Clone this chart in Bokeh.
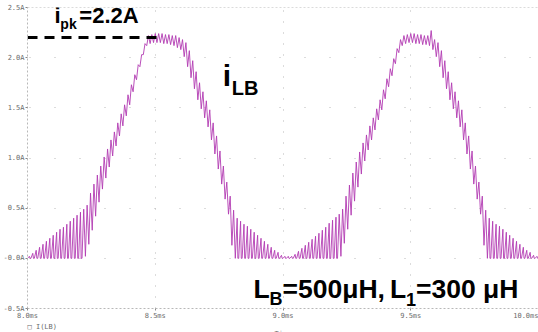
from bokeh.plotting import figure
from bokeh.models import Label, Span, FixedTicker, Range1d, Title
from bokeh.embed import file_html
from bokeh.resources import INLINE

# Inductor current I(LB) of the boost stage, 8 ms .. 10 ms, one entry per switching cycle
T_START, T_END = 8.0, 10.0          # ms
IPK = 2.2                           # A, marked peak current

X_TICKS = [8.0, 8.5, 9.0, 9.5, 10.0]
X_TICK_LABELS = ["8.0ms", "8.5ms", "9.0ms", "9.5ms", "10.0ms"]
Y_TICKS = [-0.5, 0.0, 0.5, 1.0, 1.5, 2.0, 2.5]
Y_TICK_LABELS = ["-0.5A", "-0.0A", "0.5A", "1.0A", "1.5A", "2.0A", "2.5A"]

# peak current reached in each switching cycle (A)
PEAK = [
    0.02, 0.05, 0.08, 0.11, 0.14, 0.17, 0.20, 0.23, 0.26, 0.29, 0.31, 0.34, 0.37, 0.40, 0.43, 0.46, 0.49,
    0.53, 0.65, 0.74, 0.83, 0.92, 1.01, 1.09, 1.18, 1.26, 1.35, 1.44, 1.53, 1.63, 1.73, 1.83, 1.93, 2.03, 2.14,
    2.22, 2.23, 2.24, 2.24, 2.24, 2.23, 2.23, 2.22, 2.22, 2.20, 2.18,
    2.15, 2.07, 1.97, 1.86, 1.75, 1.66, 1.57, 1.48, 1.35, 1.22, 1.07, 0.92, 0.76, 0.62, 0.48,
    0.40, 0.37, 0.34, 0.32, 0.29, 0.26, 0.23, 0.20, 0.17, 0.14, 0.11, 0.08, 0.06, 0.03, 0.02, 0.02, 0.02,
    0.04, 0.07, 0.10, 0.13, 0.16, 0.19, 0.22, 0.25, 0.28, 0.31, 0.35, 0.38, 0.41, 0.44,
    0.49, 0.62, 0.73, 0.85, 0.96, 1.06, 1.15, 1.23, 1.32, 1.40, 1.49, 1.58, 1.68, 1.79, 1.89, 1.99, 2.09, 2.18,
    2.22, 2.23, 2.24, 2.24, 2.23, 2.23, 2.22, 2.22, 2.27, 2.18,
    2.15, 2.07, 1.97, 1.86, 1.75, 1.66, 1.57, 1.48, 1.35, 1.22, 1.07, 0.92, 0.76, 0.62, 0.48,
    0.40, 0.37, 0.34, 0.32, 0.29, 0.26, 0.23, 0.20, 0.17, 0.14, 0.11, 0.08, 0.06, 0.03, 0.02,
]

# current at the start of each switching cycle (A); 0 where the inductor runs dry
VALLEY = [
    0, 0, 0, 0, 0, 0, 0, 0, 0, 0, 0, 0, 0, 0, 0, 0, 0,
    0.02, 0.14, 0.28, 0.42, 0.56, 0.69, 0.80, 0.91, 1.02, 1.12, 1.22, 1.32, 1.42, 1.53, 1.66, 1.78, 1.91, 2.03,
    2.12, 2.14, 2.15, 2.15, 2.15, 2.14, 2.14, 2.13, 2.12, 2.10, 2.08,
    2.01, 1.91, 1.80, 1.69, 1.58, 1.49, 1.40, 1.31, 1.18, 1.04, 0.89, 0.74, 0.59, 0.44, 0.13,
    0, 0, 0, 0, 0, 0, 0, 0, 0, 0, 0, 0, 0, 0, 0, 0, 0,
    0, 0, 0, 0, 0, 0, 0, 0, 0, 0, 0, 0, 0, 0,
    0.02, 0.15, 0.29, 0.43, 0.57, 0.71, 0.84, 0.97, 1.08, 1.18, 1.28, 1.38, 1.48, 1.59, 1.71, 1.82, 1.94, 2.05,
    2.12, 2.14, 2.15, 2.15, 2.14, 2.14, 2.13, 2.13, 2.12, 2.08,
    2.01, 1.91, 1.80, 1.69, 1.58, 1.49, 1.40, 1.31, 1.18, 1.04, 0.89, 0.74, 0.59, 0.44, 0.13,
    0, 0, 0, 0, 0, 0, 0, 0, 0, 0, 0, 0, 0, 0, 0,
]

TRACE = "#b23cb2"
GRID = "#b8b8b8"
AXIS_TXT = "#6a6a6a"
FONT = "Liberation Sans"
MONO = "DejaVu Sans Mono"

# ---- build the switching waveform: valley -> peak -> (next valley or zero) ----
n = len(PEAK)
period = (T_END - T_START) / n
RISE_CCM = 0.5
RISE_DCM, FALL_DCM = 0.55, 0.2
ts, cur = [], []
for k in range(n):
    t0 = T_START + k * period
    nxt = VALLEY[k + 1] if k + 1 < n else 0.0
    if VALLEY[k] == 0 and nxt == 0:
        ts += [t0, t0 + RISE_DCM * period, t0 + (RISE_DCM + FALL_DCM) * period]
        cur += [0.0, PEAK[k], 0.0]
    else:
        ts += [t0, t0 + RISE_CCM * period]
        cur += [VALLEY[k], PEAK[k]]
ts.append(T_END)
cur.append(0.0)

W, H = 538, 332
p = figure(width=W, height=H, x_range=Range1d(T_START, T_END), y_range=Range1d(-0.5, 2.5),
           output_backend="svg", toolbar_location=None,
           min_border_left=25, min_border_right=0, min_border_top=7, min_border_bottom=24)
p.background_fill_color = "white"
p.border_fill_color = "white"
p.outline_line_color = None

# axes
for ax in (p.xaxis[0], p.yaxis[0]):
    ax.axis_line_color = GRID
    ax.axis_line_dash = "2 2"
    ax.major_tick_line_color = "#888888"
    ax.major_tick_out = 2
    ax.major_tick_in = 0
    ax.minor_tick_line_color = None
    ax.major_label_text_font = MONO
    ax.major_label_text_font_size = "7px"
    ax.major_label_text_color = AXIS_TXT
    ax.major_label_standoff = 1

p.xaxis.ticker = FixedTicker(ticks=X_TICKS)
p.xaxis.major_label_overrides = dict(zip(X_TICKS, X_TICK_LABELS))
p.yaxis.ticker = FixedTicker(ticks=Y_TICKS)
p.yaxis.major_label_overrides = dict(zip(Y_TICKS, Y_TICK_LABELS))

p.xgrid.grid_line_color = GRID
p.xgrid.grid_line_dash = "1 10"
p.ygrid.grid_line_color = GRID
p.ygrid.grid_line_dash = "1 24"
p.ygrid.grid_line_dash_offset = 23

p.add_layout(Span(location=2.5, dimension="width", line_color=GRID, line_dash="2 2", line_width=1))

# waveform
p.line(ts, cur, line_color=TRACE, line_width=1, line_alpha=0.9)

# peak marker
p.line([T_START, 8.518], [IPK, IPK], line_color="black", line_width=3, line_dash="10 7")

# trace name under the tick labels, then the time title running off the bottom edge
p.add_layout(Title(text="\u25a1 I(LB)", align="left", offset=0, vertical_align="top",
                   text_font=MONO, text_font_size="7px", text_font_style="normal",
                   text_color=AXIS_TXT, standoff=0), "below")
p.add_layout(Title(text="Time", align="center", vertical_align="bottom",
                   text_font=MONO, text_font_size="7px", text_font_style="normal",
                   text_color=AXIS_TXT, standoff=-10), "below")


def dx(px):
    return T_START + (px - 25) * (T_END - T_START) / 513.0


def dy(py):
    return 2.5 - (py - 7) * 3.0 / 301.0


def lab(px, py, text, size, bold=True, color="black", font=FONT, align="left"):
    # py is the wanted baseline in canvas pixels; the label box sits lower by about half the size
    fs = float(size.replace("px", ""))
    p.add_layout(Label(x=dx(px), y=dy(py - 0.5 * fs), text=text, text_font=font,
                       text_font_size=size, text_font_style="bold" if bold else "normal",
                       text_color=color, text_baseline="alphabetic", text_align=align))


# i_pk = 2.2 A
lab(52, 26, "i", "22px")
lab(58, 30, "pk", "14px")
lab(77, 26, "=%.1fA" % IPK, "22px")

# i_LB
lab(221, 90, "i", "30px")
lab(230, 97, "LB", "20px")

# L_B = 500 uH, L_1 = 300 uH
lab(252, 302, "L", "26.5px")
lab(268, 307.5, "B", "18px")
lab(281, 302, "=500\u03bcH, ", "26.5px")
lab(389, 302, "L", "26.5px")
lab(405, 307.5, "1", "18px")
lab(415, 302, "=300 \u03bcH", "26.5px")

open("out.html", "w").write(file_html(p, INLINE))
